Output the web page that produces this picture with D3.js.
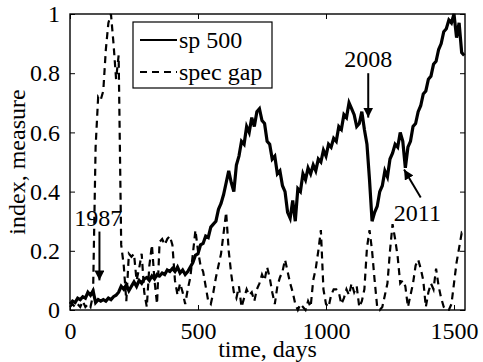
<!DOCTYPE html>
<html><head><meta charset="utf-8">
<script src="https://cdn.jsdelivr.net/npm/d3@7"></script>
<style>body{margin:0;background:#fff}svg{display:block}svg text{font-family:'Liberation Serif','Times New Roman',serif !important;fill:#000}</style>
</head><body>
<svg id="c" width="483" height="362"></svg>
<script>
// day index of each sample (every 10 days)
const days = d3.range(0, 1550, 10);
const sp500 = [0.02,0.03,0.025,0.04,0.035,0.045,0.04,0.06,0.05,0.065,
0.025,0.035,0.03,0.035,0.03,0.04,0.035,0.045,0.05,0.06,
0.08,0.07,0.085,0.065,0.08,0.095,0.08,0.1,0.09,0.105,
0.11,0.1,0.115,0.105,0.12,0.115,0.125,0.12,0.135,0.13,
0.14,0.13,0.145,0.125,0.135,0.12,0.13,0.145,0.16,0.185,
0.19,0.22,0.225,0.25,0.245,0.28,0.29,0.3,0.34,0.36,
0.39,0.43,0.47,0.43,0.40,0.49,0.52,0.57,0.56,0.62,
0.6,0.65,0.62,0.67,0.68,0.64,0.63,0.57,0.56,0.51,
0.52,0.46,0.47,0.42,0.40,0.33,0.31,0.37,0.30,0.41,
0.40,0.46,0.44,0.48,0.46,0.49,0.47,0.51,0.50,0.54,
0.52,0.56,0.55,0.58,0.57,0.62,0.61,0.66,0.65,0.70,
0.68,0.66,0.62,0.63,0.67,0.61,0.56,0.44,0.30,0.33,
0.35,0.40,0.42,0.47,0.45,0.51,0.53,0.56,0.55,0.60,
0.57,0.48,0.55,0.57,0.62,0.63,0.67,0.69,0.73,0.74,
0.78,0.79,0.83,0.84,0.88,0.90,0.94,0.95,0.98,0.97,
1.0,0.92,0.97,0.87,0.86];
const specGap = [0.01,0.02,0.01,0.02,0.01,0.03,0.01,0.02,0.01,0.05,
0.55,0.72,0.71,0.74,0.88,0.97,1.0,0.9,0.78,0.86,
0.22,0.15,0.03,0.19,0.18,0.19,0.10,0.14,0.19,0.06,
0.01,0.15,0.22,0.10,0.02,0.23,0.24,0.22,0.24,0.25,
0.22,0.10,0.05,0.09,0.06,0.02,0.07,0.11,0.19,0.27,
0.20,0.15,0.13,0.08,0.03,0.02,0.06,0.11,0.15,0.19,
0.26,0.33,0.20,0.12,0.06,0.04,0.08,0.01,0.04,0.07,
0.05,0.06,0.03,0.07,0.09,0.12,0.10,0.145,0.11,0.06,
0.02,0.08,0.11,0.13,0.17,0.13,0.09,0.06,0.02,0.0,
0.02,0.01,0.0,0.03,0.01,0.10,0.14,0.20,0.27,0.07,
0.02,0.01,0.05,0.07,0.07,0.06,0.02,0.04,0.07,0.05,
0.09,0.06,0.08,0.01,0.03,0.07,0.21,0.27,0.20,0.10,
0.01,0.0,0.01,0.05,0.09,0.20,0.29,0.24,0.18,0.09,
0.10,0.08,0.01,0.05,0.09,0.15,0.17,0.14,0.10,0.01,
0.06,0.09,0.07,0.14,0.08,0.04,0.01,0.0,0.0,0.02,
0.09,0.16,0.21,0.26,0.25];
const xTicks = [0, 500, 1000, 1500];
const yTicks = [0, 0.2, 0.4, 0.6, 0.8, 1];
const seriesNames = ["sp 500", "spec gap"];
const annotations = [
  {label:"1987", tx:110, ty:0.285, from:[115,0.265], to:[115,0.10]},
  {label:"2008", tx:1165, ty:0.822, from:[1165,0.80], to:[1165,0.65]},
  {label:"2011", tx:1265, ty:0.30, from:[1370,0.38], to:[1305,0.475], anchor:"start"}
];

const W=483,H=362, m={l:70,r:18,t:14,b:52};
const svg=d3.select("#c");
const x=d3.scaleLinear().domain([0,1543]).range([m.l,W-m.r]);
const y=d3.scaleLinear().domain([0,1]).range([H-m.b,m.t]);
const fs=24;

const line=d3.line().x((d,i)=>x(days[i])).y(d=>y(d));
svg.append("path").datum(sp500).attr("d",line).attr("fill","none").attr("stroke","#000").attr("stroke-width",3.2).attr("stroke-linejoin","miter");
svg.append("path").datum(specGap).attr("d",line).attr("fill","none").attr("stroke","#000").attr("stroke-width",2.2).attr("stroke-dasharray","7,5");

// box
svg.append("rect").attr("x",x(0)).attr("y",y(1)).attr("width",x(1543)-x(0)).attr("height",y(0)-y(1)).attr("fill","none").attr("stroke","#000").attr("stroke-width",1.4);

const tl=5;
const gx=svg.append("g").attr("transform",`translate(0,${y(0)})`).call(d3.axisBottom(x).tickValues(xTicks).tickSize(-tl).tickPadding(tl+7).tickFormat(d3.format("d")));
const gxt=svg.append("g").attr("transform",`translate(0,${y(1)})`).call(d3.axisTop(x).tickValues(xTicks).tickSize(-tl).tickFormat(""));
const gy=svg.append("g").attr("transform",`translate(${x(0)},0)`).call(d3.axisLeft(y).tickValues(yTicks).tickSize(-tl).tickPadding(tl+5).tickFormat(d=>d===0||d===1?String(d):d3.format(".1f")(d)));
const gyr=svg.append("g").attr("transform",`translate(${x(1543)},0)`).call(d3.axisRight(y).tickValues(yTicks).tickSize(-tl).tickFormat(""));
[gx,gxt,gy,gyr].forEach(g=>{g.attr("font-family",null).attr("font-size",null);g.select(".domain").remove();g.selectAll("line").attr("stroke","#000");g.selectAll("text").attr("fill","#000").style("font-size",fs+"px");});

svg.append("text").attr("x",(x(0)+x(1543))/2).attr("y",357).attr("text-anchor","middle").style("font-size",fs+"px").text("time, days");
svg.append("text").attr("transform",`translate(25,${(y(0)+y(1))/2}) rotate(-90)`).attr("text-anchor","middle").style("font-size",fs+"px").text("index, measure");

// legend
const lg=svg.append("g");
lg.append("rect").attr("x",133).attr("y",22).attr("width",139).attr("height",66).attr("fill","#fff").attr("stroke","#000").attr("stroke-width",1.2);
seriesNames.forEach((n,i)=>{
  const yy=40+i*32;
  lg.append("line").attr("x1",140).attr("x2",177).attr("y1",yy).attr("y2",yy).attr("stroke","#000").attr("stroke-width",2.2).attr("stroke-dasharray",i?"7,5":null);
  lg.append("text").attr("x",179).attr("y",yy).attr("dy","0.33em").style("font-size",fs+"px").text(n);
});

// annotations
const defs=svg.append("defs");
defs.append("marker").attr("id","ah").attr("viewBox","0 0 10 10").attr("refX",10).attr("refY",5).attr("markerWidth",5).attr("markerHeight",5).attr("orient","auto").attr("markerUnits","strokeWidth")
  .append("path").attr("d","M0,0L10,5L0,10z").attr("fill","#000");
annotations.forEach(a=>{
  svg.append("text").attr("x",x(a.tx)).attr("y",y(a.ty)).attr("text-anchor",a.anchor||"middle").style("font-size",fs+"px").text(a.label);
  svg.append("line").attr("x1",x(a.from[0])).attr("y1",y(a.from[1])).attr("x2",x(a.to[0])).attr("y2",y(a.to[1])).attr("stroke","#000").attr("stroke-width",2).attr("marker-end","url(#ah)");
});
</script>
</body></html>
